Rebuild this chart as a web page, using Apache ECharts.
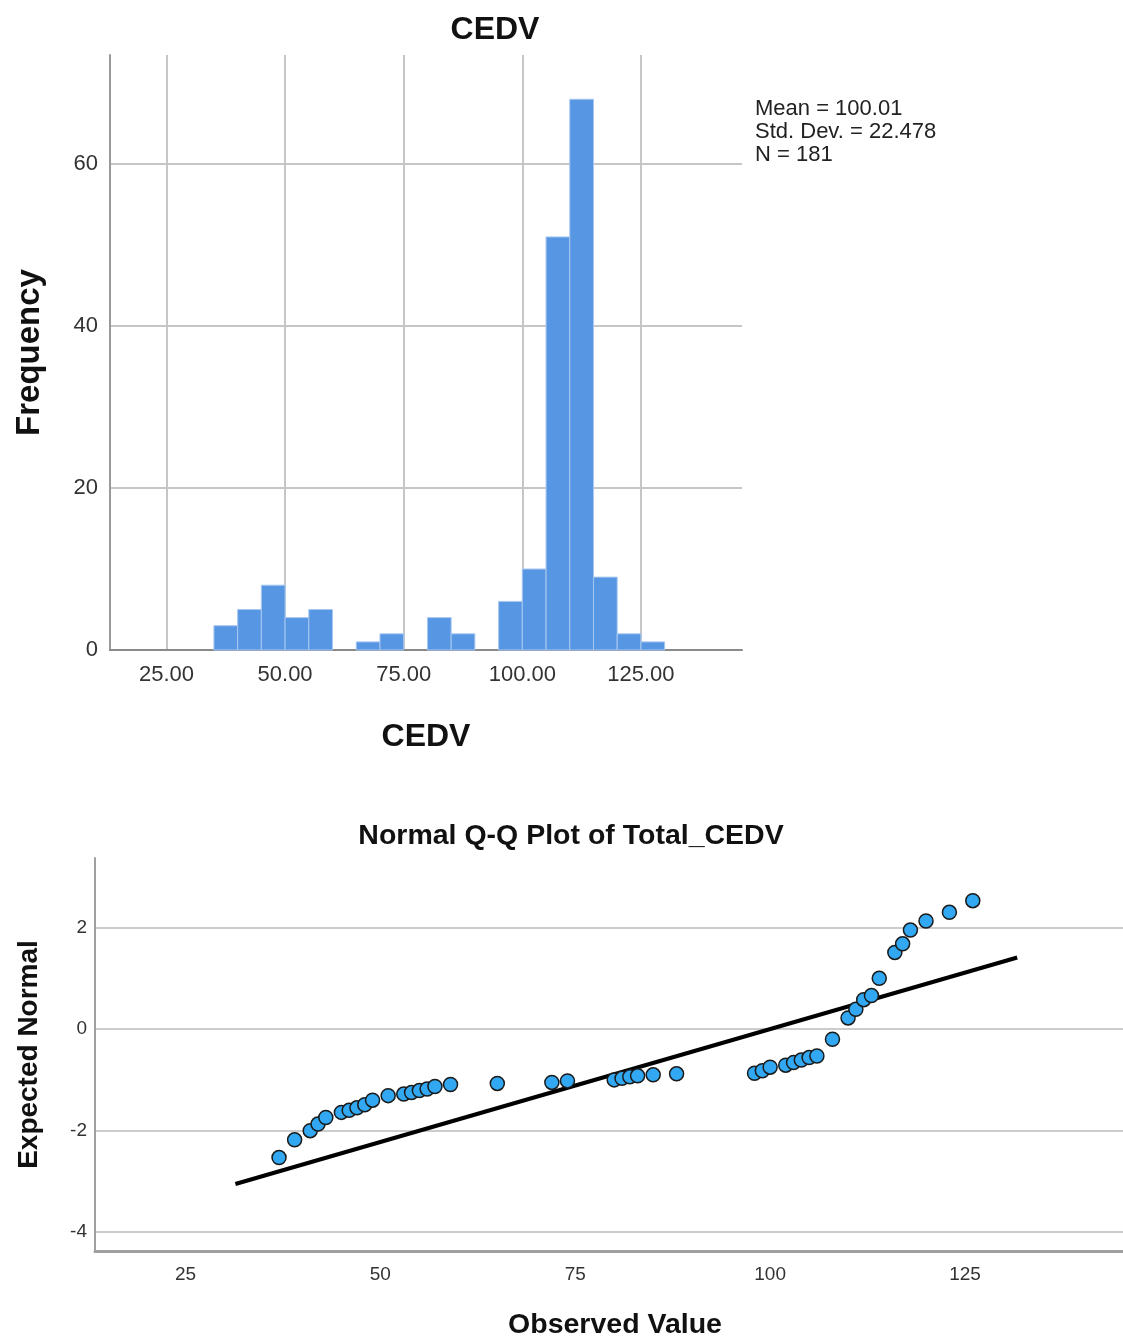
<!DOCTYPE html>
<html>
<head>
<meta charset="utf-8">
<script src="https://cdn.jsdelivr.net/npm/echarts@6/dist/echarts.min.js"></script>
<style>
html,body{margin:0;padding:0;background:#fff;}
#chart{width:1123px;height:1341px;}
</style>
</head>
<body>
<div id="chart"></div>
<script>
// ---------- Histogram data ----------
const binStarts = [35,40,45,50,55,60,65,70,75,80,85,90,95,100,105,110,115,120,125];
const binWidth = 5;
const binCounts = [3,5,8,4,5,0,1,2,0,4,2,0,6,10,51,68,9,2,1];
const histXTicks = [25,50,75,100,125];
const histYTicks = [0,20,40,60];
const statsLines = ['Mean = 100.01','Std. Dev. = 22.478','N = 181'];

// ---------- Q-Q plot data ----------
const qqObserved = [37,39,41,42,43,45,46,47,48,49,51,53,54,55,56,57,59,65,72,74,80,81,82,83,85,88,
  98,99,100,102,103,104,105,106,108,110,111,112,113,114,116,117,118,120,123,126];
const qqExpected = [-2.53,-2.18,-2.00,-1.87,-1.74,-1.64,-1.60,-1.55,-1.49,-1.40,-1.31,-1.28,-1.25,-1.21,-1.18,-1.13,-1.09,-1.07,-1.05,-1.02,-1.00,-0.97,-0.94,-0.92,-0.90,-0.88,
  -0.87,-0.82,-0.75,-0.71,-0.66,-0.61,-0.56,-0.53,-0.20,0.22,0.39,0.58,0.66,1.00,1.51,1.68,1.95,2.13,2.30,2.53];
const qqLineX = [31.4,131.7];
const qqLineY = [-3.05,1.41];
const qqXTicks = [25,50,75,100,125];
const qqYTicks = [-4,-2,0,2];

const FONT = "'Liberation Sans', Arial, sans-serif";
const histData = binStarts.map((s,i)=>[s, s+binWidth, binCounts[i]]);
const qqData = qqObserved.map((x,i)=>[x, qqExpected[i]]);
const lineData = qqLineX.map((x,i)=>[x, qqLineY[i]]);

const chart = echarts.init(document.getElementById('chart'), null, {renderer:'canvas'});

const option = {
  backgroundColor:'#fff',
  animation:false,
  title:[
    {text:'CEDV', left:490, top:9, textAlign:'center',
     textStyle:{fontFamily:FONT, fontWeight:'bold', fontSize:32, color:'#111'}},
    {text:'Normal Q-Q Plot of Total_CEDV', left:566, top:817, textAlign:'center',
     textStyle:{fontFamily:FONT, fontWeight:'bold', fontSize:28.5, color:'#111'}}
  ],
  grid:[
    {left:110, top:55, width:632, height:595, containLabel:false},
    {left:95, top:858, right:0, height:393, containLabel:false}
  ],
  xAxis:[
    {gridIndex:0, type:'value', min:13.1, max:146.3, minInterval:25, maxInterval:25,
     name:'CEDV', nameLocation:'middle', nameGap:71,
     nameTextStyle:{fontFamily:FONT, fontWeight:'bold', fontSize:32, color:'#111'},
     axisLine:{show:true, onZero:false, lineStyle:{color:'#8a8a8a', width:2}},
     axisTick:{show:false},
     axisLabel:{show:true, showMinLabel:false, showMaxLabel:false, margin:14,
       fontFamily:FONT, fontSize:22, color:'#333',
       formatter:v=>histXTicks.includes(v)? v.toFixed(2):''},
     splitLine:{show:true, showMinLine:false, showMaxLine:false, lineStyle:{color:'#c6c6c6', width:2}}
    },
    {gridIndex:1, type:'value', min:13.39, max:145.27, minInterval:25, maxInterval:25,
     name:'Observed Value', nameLocation:'middle', nameGap:60,
     nameTextStyle:{fontFamily:FONT, fontWeight:'bold', fontSize:28.5, color:'#111', padding:[0,0,0,12]},
     axisLine:{show:true, onZero:false, lineStyle:{color:'#a0a0a0', width:3}},
     axisTick:{show:false},
     axisLabel:{show:true, showMinLabel:false, showMaxLabel:false, margin:14,
       fontFamily:FONT, fontSize:19, color:'#333',
       formatter:v=>qqXTicks.includes(v)? String(v):''},
     splitLine:{show:false}
    }
  ],
  yAxis:[
    {gridIndex:0, type:'value', min:0, max:73.46, minInterval:20, maxInterval:20,
     name:'Frequency', nameLocation:'middle', nameGap:64,
     nameTextStyle:{fontFamily:FONT, fontWeight:'bold', fontSize:33, color:'#111'},
     axisLine:{show:true, onZero:false, lineStyle:{color:'#9a9a9a', width:2}},
     axisTick:{show:false},
     axisLabel:{show:true, showMaxLabel:false, margin:12, fontFamily:FONT, fontSize:22, color:'#333',
       formatter:v=>histYTicks.includes(v)? String(v):''},
     splitLine:{show:true, showMinLine:false, showMaxLine:false, lineStyle:{color:'#c6c6c6', width:2}}
    },
    {gridIndex:1, type:'value', min:-4.37, max:3.37, minInterval:2, maxInterval:2,
     name:'Expected Normal', nameLocation:'middle', nameGap:52,
     nameTextStyle:{fontFamily:FONT, fontWeight:'bold', fontSize:28, color:'#111'},
     axisLine:{show:true, onZero:false, lineStyle:{color:'#a0a0a0', width:2}},
     axisTick:{show:false},
     axisLabel:{show:true, showMinLabel:false, showMaxLabel:false, margin:8, fontFamily:FONT, fontSize:19, color:'#333',
       formatter:v=>qqYTicks.includes(v)? String(v):''},
     splitLine:{show:true, showMinLine:false, showMaxLine:false, lineStyle:{color:'#cccccc', width:2}}
    }
  ],
  graphic:[
    {type:'text', left:755, top:97,
     style:{text:statsLines.join('\n'), font:"22px 'Liberation Sans', Arial, sans-serif", fill:'#222', lineHeight:23}}
  ],
  series:[
    {type:'custom', xAxisIndex:0, yAxisIndex:0, data:histData,
     encode:{x:[0,1], y:2},
     renderItem:function(params, api){
       const c = api.value(2);
       if (!c) return null;
       const p0 = api.coord([api.value(0), c]);
       const p1 = api.coord([api.value(1), 0]);
       return {type:'rect',
         shape:{x:p0[0], y:p0[1], width:p1[0]-p0[0], height:p1[1]-p0[1]},
         style:{fill:'#5796e3', stroke:'#a9c8f0', lineWidth:1}};
     }},
    {type:'line', xAxisIndex:1, yAxisIndex:1, data:lineData, symbol:'none',
     lineStyle:{color:'#000', width:4}, z:2},
    {type:'scatter', xAxisIndex:1, yAxisIndex:1, data:qqData, symbol:'circle', symbolSize:14,
     itemStyle:{color:'#31a8f1', borderColor:'#1a1a1a', borderWidth:1.5, opacity:1}, z:3}
  ]
};
chart.setOption(option);
</script>
</body>
</html>
